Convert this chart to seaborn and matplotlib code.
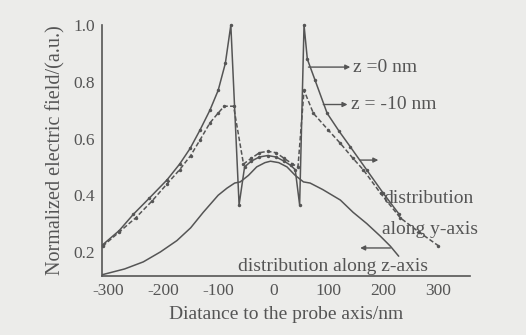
import numpy as np
import pandas as pd
import matplotlib
matplotlib.use("Agg")
import matplotlib.pyplot as plt
import seaborn as sns

# z = 0 nm, distribution along y-axis
x_z0 = [-310, -280, -254, -225, -193, -170, -151, -133, -115, -100, -87, -77,
        -62, -52, -40, -25, -10, 5, 20, 32, 40, 48, 56, 62, 76, 98, 120, 140,
        170, 200, 228]
y_z0 = [0.225, 0.275, 0.333, 0.39, 0.454, 0.51, 0.565, 0.63, 0.70, 0.77, 0.865, 1.0,
        0.366, 0.50, 0.52, 0.535, 0.54, 0.535, 0.52, 0.505, 0.49, 0.366, 1.0, 0.88, 0.806,
        0.689, 0.625, 0.571, 0.489, 0.407, 0.335]

# z = -10 nm, distribution along y-axis
x_z10 = [-310, -280, -250, -220, -193, -170, -150, -133, -115, -100, -89, -72,
         -54, -40, -25, -10, 5, 20, 35, 45, 56, 73, 100, 122, 145, 164, 195, 231,
         265, 300]
y_z10 = [0.22, 0.27, 0.32, 0.38, 0.44, 0.49, 0.54, 0.595, 0.655, 0.69, 0.714, 0.714,
         0.51, 0.53, 0.55, 0.555, 0.55, 0.53, 0.51, 0.50, 0.77, 0.689, 0.63, 0.583, 0.53,
         0.489, 0.407, 0.32, 0.27, 0.222]

# distribution along z-axis
x_zax = [-310, -270, -236, -205, -175, -150, -127, -100, -84, -70, -60, -45,
         -30, -15, -5, 10, 25, 40, 55, 67, 90, 122, 145, 170, 195, 213, 228]
y_zax = [0.12, 0.14, 0.165, 0.20, 0.24, 0.285, 0.34, 0.40, 0.425, 0.443, 0.447, 0.47,
         0.50, 0.515, 0.52, 0.515, 0.50, 0.47, 0.447, 0.443, 0.42, 0.383, 0.34, 0.30,
         0.255, 0.22, 0.185]

xticks = [-300, -200, -100, 0, 100, 200, 300]
yticks = [0.2, 0.4, 0.6, 0.8, 1.0]

bg = "#ececea"
ink = "#555555"

sns.set_style("white")
plt.rcParams["font.family"] = ["Liberation Serif", "DejaVu Serif"]

fig = plt.figure(figsize=(5.26, 3.35), dpi=100, facecolor=bg)
ax = fig.add_axes([0.194, 0.176, 0.70, 0.749])
ax.set_facecolor(bg)

d0 = pd.DataFrame({"x": x_z0, "y": y_z0})
d1 = pd.DataFrame({"x": x_z10, "y": y_z10})
d2 = pd.DataFrame({"x": x_zax, "y": y_zax})

sns.lineplot(data=d0, x="x", y="y", ax=ax, sort=False, color=ink, lw=1.1,
             marker="o", markersize=2.5, markeredgewidth=0, estimator=None)
sns.lineplot(data=d1, x="x", y="y", ax=ax, sort=False, color=ink, lw=1.1,
             linestyle=(0, (3, 1.5)), marker="o", markersize=2.5, markeredgewidth=0,
             estimator=None)
sns.lineplot(data=d2, x="x", y="y", ax=ax, sort=False, color=ink, lw=1.1,
             estimator=None)
for l in ax.lines:
    l.set_clip_on(False)

ax.set_xlim(-311, 358)
ax.set_ylim(0.115, 1.0)
ax.set_xticks(xticks)
ax.set_yticks(yticks)
ax.set_xticklabels([str(v) for v in xticks])
ax.set_yticklabels([f"{v:.1f}" for v in yticks])
ax.tick_params(axis="x", direction="in", length=3, width=1, colors=ink,
               labelsize=12.5, pad=5)
ax.tick_params(axis="y", direction="out", length=5, width=1, colors=ink,
               labelsize=12.5, pad=0)
for s in ["top", "right"]:
    ax.spines[s].set_visible(False)
for s in ["left", "bottom"]:
    ax.spines[s].set_color(ink)
    ax.spines[s].set_linewidth(1.2)

ax.set_xlabel("Diatance to the probe axis/nm", fontsize=14, color=ink, labelpad=5)
ax.set_ylabel("Normalized electric field/(a.u.)", fontsize=14.5, color=ink, labelpad=6)

ap = dict(arrowstyle="-|>", color=ink, lw=1.0, mutation_scale=7,
          shrinkA=0, shrinkB=0)
fs = 14
ax.annotate("", xy=(140, 0.852), xytext=(64, 0.852), arrowprops=ap,
            annotation_clip=False)
ax.text(145, 0.852, "z =0 nm", fontsize=fs, color=ink, va="center", ha="left")
ax.annotate("", xy=(135, 0.72), xytext=(91, 0.72), arrowprops=ap,
            annotation_clip=False)
ax.text(141, 0.72, "z = -10 nm", fontsize=fs, color=ink, va="center", ha="left")
ax.annotate("", xy=(191, 0.524), xytext=(158, 0.524), arrowprops=ap,
            annotation_clip=False)
ax.text(200, 0.39, "distribution", fontsize=fs, color=ink, va="center", ha="left")
ax.text(198, 0.278, "along y-axis", fontsize=fs, color=ink, va="center", ha="left")
ax.annotate("", xy=(158, 0.214), xytext=(213, 0.214), arrowprops=ap,
            annotation_clip=False)
ax.text(108, 0.147, "distribution along z-axis", fontsize=fs, color=ink,
        va="center", ha="center")

fig.savefig("out.png", dpi=100, facecolor=bg)
